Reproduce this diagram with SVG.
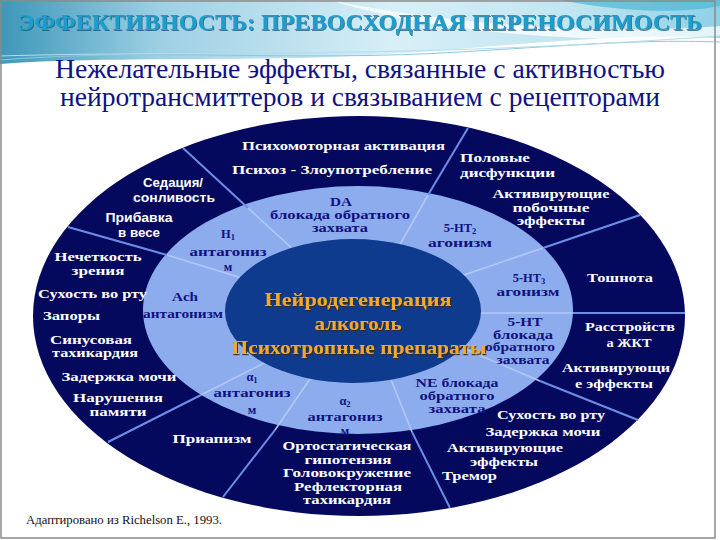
<svg xmlns="http://www.w3.org/2000/svg" width="720" height="540" viewBox="0 0 720 540">
<defs>
  <linearGradient id="band" x1="0" y1="0" x2="1" y2="0">
    <stop offset="0" stop-color="#3d97b8"/>
    <stop offset="0.22" stop-color="#9dd0e4"/>
    <stop offset="0.55" stop-color="#d8eff7"/>
    <stop offset="0.8" stop-color="#c0e5f1"/>
    <stop offset="1" stop-color="#8fd0e6"/>
  </linearGradient>
  <filter id="sh" x="-10%" y="-40%" width="120%" height="180%">
    <feDropShadow dx="1" dy="1.2" stdDeviation="0.6" flood-color="#3b2606" flood-opacity="0.9"/>
  </filter>
  <filter id="tsh" x="-5%" y="-60%" width="110%" height="220%">
    <feDropShadow dx="1" dy="1" stdDeviation="0.5" flood-color="#0b4d6e" flood-opacity="0.7"/>
  </filter>
</defs>
<style>
  .w{font-weight:bold;font-size:13.5px;fill:#ffffff;text-anchor:middle}
  .st{text-anchor:start}
  .ws{font-weight:bold;font-size:13px;fill:#ffffff;text-anchor:middle}
  .n{font-weight:bold;font-size:12.5px;fill:#10127f;text-anchor:middle}
  .sub{font-size:8.5px}
  .c{font-weight:bold;font-size:19px;fill:#f4a62e;text-anchor:middle;filter:url(#sh)}
  .dk{stroke:#6d8ee6;stroke-width:2;fill:none}
  .lt{stroke:#b3c8f6;stroke-width:1.6;fill:none}
  .title{font-weight:bold;font-size:24px;fill:#1e9dcc;text-anchor:middle;filter:url(#tsh)}
  .subt{font-size:27px;fill:#0f1186;text-anchor:middle}
  .foot{font-size:13px;fill:#111111}
</style>

<g id="background">
  <rect x="0" y="0" width="720" height="540" fill="#ffffff"/>
  <path d="M0,0 H720 V38 C600,30 450,55 300,58 C180,60 80,58 0,64 Z" fill="url(#band)"/>
  <path d="M330,0 C450,25 600,35 720,26 V36 C600,45 440,35 330,0 Z" fill="#ffffff" opacity="0.75"/>
  <path d="M560,0 C620,12 680,14 720,6 V0 Z" fill="#4fb6d6" opacity="0.7"/>
  <path d="M0,60 C150,48 300,62 460,52 S650,40 720,42" fill="none" stroke="#8cc8de" stroke-width="1"/>
  <path d="M0,56 C200,50 380,60 720,36" fill="none" stroke="#b5dced" stroke-width="1"/>
  <rect x="1" y="1" width="714" height="537" fill="none" stroke="#8a8a8a" stroke-width="1.5"/>
</g>

<g id="headings" font-family="Liberation Serif, Times New Roman, serif">
  <text class="title" x="360" y="30" textLength="684" lengthAdjust="spacingAndGlyphs">ЭФФЕКТИВНОСТЬ: ПРЕВОСХОДНАЯ ПЕРЕНОСИМОСТЬ</text>
  <text class="subt" x="360" y="78" textLength="610" lengthAdjust="spacingAndGlyphs">Нежелательные эффекты, связанные с активностью</text>
  <text class="subt" x="360" y="106" textLength="600" lengthAdjust="spacingAndGlyphs">нейротрансмиттеров и связыванием с рецепторами</text>
</g>

<g id="rings">
  <ellipse cx="359" cy="316" rx="326" ry="200" fill="#04095e"/>
  <ellipse cx="358" cy="310" rx="215" ry="124" fill="#8dacee"/>
</g>

<g id="connectors">
  <line class="dk" x1="183" y1="148" x2="248" y2="208"/>
  <line class="dk" x1="68" y1="227" x2="167" y2="255"/>
  <line class="dk" x1="468" y1="128" x2="428" y2="195"/>
  <line class="dk" x1="640" y1="215" x2="543" y2="248"/>
  <line class="dk" x1="685" y1="313" x2="573" y2="313"/>
  <line class="dk" x1="638" y1="420" x2="540" y2="381"/>
  <line class="dk" x1="450" y1="508" x2="412" y2="432"/>
  <line class="dk" x1="223" y1="497" x2="275" y2="430"/>
  <line class="dk" x1="108" y1="442" x2="201" y2="395"/>
  <line class="lt" x1="248" y1="208" x2="296" y2="252"/>
  <line class="lt" x1="167" y1="255" x2="245" y2="279"/>
  <line class="lt" x1="428" y1="195" x2="398" y2="248"/>
  <line class="lt" x1="543" y1="248" x2="458" y2="277"/>
  <line class="lt" x1="573" y1="313" x2="476" y2="313"/>
  <line class="lt" x1="540" y1="381" x2="460" y2="347"/>
  <line class="lt" x1="412" y1="432" x2="388" y2="372"/>
  <line class="lt" x1="275" y1="430" x2="312" y2="376"/>
  <line class="lt" x1="201" y1="395" x2="266" y2="362"/>
</g>

<g id="core">
  <ellipse cx="353" cy="311" rx="128" ry="72" fill="#0e3b8d"/>
</g>

<g id="labels" font-family="Liberation Serif, Times New Roman, serif">
<g id="n-psychomotor"><text class="w" x="343.5" y="150" textLength="203" lengthAdjust="spacingAndGlyphs">Психомоторная активация</text></g>
<g id="n-psychosis"><text class="w" x="332" y="174" textLength="200" lengthAdjust="spacingAndGlyphs">Психоз - Злоупотребление</text></g>
<g id="n-sexual">
  <text class="w st" x="460" y="162" textLength="70" lengthAdjust="spacingAndGlyphs">Половые</text>
  <text class="w st" x="460" y="177" textLength="95" lengthAdjust="spacingAndGlyphs">дисфункции</text>
</g>
<g id="n-activating-side">
  <text class="w" x="551" y="198" textLength="117" lengthAdjust="spacingAndGlyphs">Активирующие</text>
  <text class="w" x="551" y="211.5" textLength="77" lengthAdjust="spacingAndGlyphs">побочные</text>
  <text class="w" x="551" y="225" textLength="68" lengthAdjust="spacingAndGlyphs">эффекты</text>
</g>
<g id="n-nausea"><text class="w" x="620" y="282" textLength="66" lengthAdjust="spacingAndGlyphs">Тошнота</text></g>
<g id="n-gi">
  <text class="w" x="630" y="331" textLength="90" lengthAdjust="spacingAndGlyphs">Расстройств</text>
  <text class="w" x="629" y="347" textLength="45" lengthAdjust="spacingAndGlyphs">а ЖКТ</text>
</g>
<g id="n-activating-5ht">
  <text class="w" x="616" y="372" textLength="108" lengthAdjust="spacingAndGlyphs">Активирующи</text>
  <text class="w" x="614" y="388" textLength="78" lengthAdjust="spacingAndGlyphs">е эффекты</text>
</g>
<g id="n-ne-effects">
  <text class="w" x="551" y="419" textLength="108" lengthAdjust="spacingAndGlyphs">Сухость во рту</text>
  <text class="w" x="543" y="436" textLength="115" lengthAdjust="spacingAndGlyphs">Задержка мочи</text>
  <text class="w" x="505" y="452" textLength="116" lengthAdjust="spacingAndGlyphs">Активирующие</text>
  <text class="w" x="504" y="466" textLength="68" lengthAdjust="spacingAndGlyphs">эффекты</text>
  <text class="w st" x="442" y="480" textLength="55" lengthAdjust="spacingAndGlyphs">Тремор</text>
</g>
<g id="n-orthostatic">
  <text class="w" x="347" y="450" textLength="129" lengthAdjust="spacingAndGlyphs">Ортостатическая</text>
  <text class="w" x="348" y="463.5" textLength="87" lengthAdjust="spacingAndGlyphs">гипотензия</text>
  <text class="w" x="347" y="477" textLength="128" lengthAdjust="spacingAndGlyphs">Головокружение</text>
  <text class="w" x="348" y="490.5" textLength="108" lengthAdjust="spacingAndGlyphs">Рефлекторная</text>
  <text class="w" x="347" y="504" textLength="88" lengthAdjust="spacingAndGlyphs">тахикардия</text>
</g>
<g id="n-priapism"><text class="w" x="212" y="443" textLength="79" lengthAdjust="spacingAndGlyphs">Приапизм</text></g>
<g id="n-memory">
  <text class="w" x="118" y="402" textLength="90" lengthAdjust="spacingAndGlyphs">Нарушения</text>
  <text class="w" x="118" y="416" textLength="57" lengthAdjust="spacingAndGlyphs">памяти</text>
</g>
<g id="n-urinary"><text class="w" x="119" y="381" textLength="115" lengthAdjust="spacingAndGlyphs">Задержка мочи</text></g>
<g id="n-tachycardia">
  <text class="w" x="91" y="343.5" textLength="82" lengthAdjust="spacingAndGlyphs">Синусовая</text>
  <text class="w" x="95" y="357" textLength="86" lengthAdjust="spacingAndGlyphs">тахикардия</text>
</g>
<g id="n-constipation"><text class="w st" x="43" y="320" textLength="57" lengthAdjust="spacingAndGlyphs">Запоры</text></g>
<g id="n-drymouth"><text class="w st" x="38" y="298" textLength="109" lengthAdjust="spacingAndGlyphs">Сухость во рту</text></g>
<g id="n-vision">
  <text class="w" x="98" y="260.5" textLength="87" lengthAdjust="spacingAndGlyphs">Нечеткость</text>
  <text class="w" x="98" y="274.5" textLength="53" lengthAdjust="spacingAndGlyphs">зрения</text>
</g>
<g id="n-weight" font-family="Liberation Sans, Arial, sans-serif">
  <text class="ws" x="139" y="222" textLength="67" lengthAdjust="spacingAndGlyphs">Прибавка</text>
  <text class="ws" x="139" y="237" textLength="42" lengthAdjust="spacingAndGlyphs">в весе</text>
</g>
<g id="n-sedation" font-family="Liberation Sans, Arial, sans-serif">
  <text class="ws" x="173" y="187" textLength="60" lengthAdjust="spacingAndGlyphs">Седация/</text>
  <text class="ws" x="174" y="202" textLength="82" lengthAdjust="spacingAndGlyphs">сонливость</text>
</g>

<g id="n-da">
  <text class="n" x="341" y="206" textLength="22" lengthAdjust="spacingAndGlyphs">DA</text>
  <text class="n" x="340" y="219" textLength="140" lengthAdjust="spacingAndGlyphs">блокада обратного</text>
  <text class="n" x="340" y="232" textLength="56" lengthAdjust="spacingAndGlyphs">захвата</text>
</g>
<g id="n-h1">
  <text class="n" x="228" y="238">H<tspan class="sub" dy="2">1</tspan></text>
  <text class="n" x="228" y="256" textLength="77" lengthAdjust="spacingAndGlyphs">антагониз</text>
  <text class="n" x="228" y="271">м</text>
</g>
<g id="n-5ht2">
  <text class="n" x="460" y="232">5-HT<tspan class="sub" dy="2">2</tspan></text>
  <text class="n" x="460" y="247" textLength="64" lengthAdjust="spacingAndGlyphs">агонизм</text>
</g>
<g id="n-5ht3">
  <text class="n" x="529" y="282">5-HT<tspan class="sub" dy="2">3</tspan></text>
  <text class="n" x="528" y="296" textLength="63" lengthAdjust="spacingAndGlyphs">агонизм</text>
</g>
<g id="n-ach">
  <text class="n" x="185" y="301" textLength="26" lengthAdjust="spacingAndGlyphs">Ach</text>
  <text class="n" x="183" y="318" textLength="80" lengthAdjust="spacingAndGlyphs">антагонизм</text>
</g>
<g id="n-5ht-reuptake">
  <text class="n" x="525" y="326" textLength="35" lengthAdjust="spacingAndGlyphs">5-HT</text>
  <text class="n" x="523" y="338.5" textLength="60" lengthAdjust="spacingAndGlyphs">блокада</text>
  <text class="n" x="520" y="351" textLength="70" lengthAdjust="spacingAndGlyphs">обратного</text>
  <text class="n" x="523" y="363.5" textLength="53" lengthAdjust="spacingAndGlyphs">захвата</text>
</g>
<g id="n-ne">
  <text class="n" x="457" y="387" textLength="83" lengthAdjust="spacingAndGlyphs">NE блокада</text>
  <text class="n" x="457" y="400" textLength="75" lengthAdjust="spacingAndGlyphs">обратного</text>
  <text class="n" x="457" y="413" textLength="57" lengthAdjust="spacingAndGlyphs">захвата</text>
</g>
<g id="n-alpha1">
  <text class="n" x="252" y="381">α<tspan class="sub" dy="2">1</tspan></text>
  <text class="n" x="252" y="397" textLength="77" lengthAdjust="spacingAndGlyphs">антагониз</text>
  <text class="n" x="252" y="414">м</text>
</g>
<g id="n-alpha2">
  <text class="n" x="345" y="405">α<tspan class="sub" dy="2">2</tspan></text>
  <text class="n" x="345" y="421" textLength="75" lengthAdjust="spacingAndGlyphs">антагониз</text>
  <text class="n" x="345" y="434.5">м</text>
</g>

<g id="n-center">
  <text class="c" x="358" y="306" textLength="187" lengthAdjust="spacingAndGlyphs">Нейродегенерация</text>
  <text class="c" x="358" y="330" textLength="87" lengthAdjust="spacingAndGlyphs">алкоголь</text>
  <text class="c" x="359" y="354" textLength="255" lengthAdjust="spacingAndGlyphs">Психотропные препараты</text>
</g>

<g id="footer">
  <text class="foot" x="26" y="524" textLength="196" lengthAdjust="spacingAndGlyphs">Адаптировано из Richelson E., 1993.</text>
</g>
</g>
</svg>
